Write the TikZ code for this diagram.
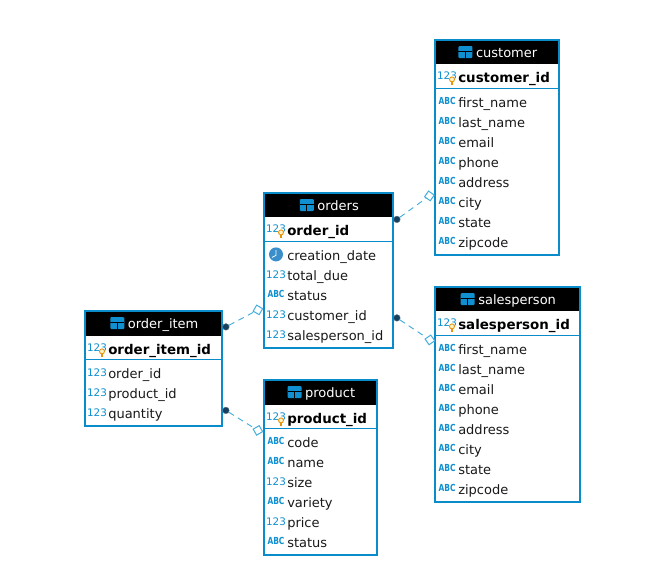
\documentclass[tikz,border=0pt]{standalone}
\usepackage{fontspec}
\setmainfont{DejaVu Sans}
\definecolor{frameblue}{HTML}{0A8CCB}
\definecolor{iconblue}{HTML}{1090D0}
\definecolor{linkblue}{HTML}{45AEDD}
\definecolor{dotdark}{HTML}{17405E}
\definecolor{clockblue}{HTML}{3A8FCB}
\definecolor{keyorange}{HTML}{E8920C}
\definecolor{keyyellow}{HTML}{FFF3C8}
\tikzset{
  tableframe/.style={draw=frameblue,line width=1.5pt,fill=white,inner sep=0pt,anchor=north west},
  tablehead/.style={fill=black,inner sep=0pt,anchor=north west},
  titletext/.style={text=white,font=\fontsize{9.75pt}{11pt}\selectfont,inner sep=0pt,anchor=base},
  pktext/.style={font=\fontsize{10.05pt}{11pt}\selectfont\bfseries,inner sep=0pt,anchor=base west},
  rowtext/.style={font=\fontsize{9.75pt}{11pt}\selectfont,text=black!90,inner sep=0pt,anchor=base west},
  numicon/.style={font=\fontsize{7.8pt}{8pt}\selectfont,text=iconblue,inner sep=0pt,anchor=base},
  abcicon/.style={font=\fontsize{5.6pt}{6pt}\selectfont\bfseries,text=iconblue,inner sep=0pt,anchor=base,yscale=1.3},
  seprule/.style={draw=frameblue,line width=0.75pt},
  dotend/.style={circle,fill=dotdark,draw=dotdark!70,line width=.3pt,minimum size=5pt,inner sep=0pt},
  squareend/.style={rectangle,draw=linkblue,fill=white,line width=.75pt,minimum size=5.2pt,inner sep=0pt},
  linkline/.style={draw=linkblue,line width=.7pt,dash pattern=on 4.5pt off 3.5pt},
}
\newcommand{\tableglyph}[1]{%
  \fill[iconblue,rounded corners=.8pt] ([shift={(-7,-6)}]#1) rectangle ([shift={(7,6)}]#1);
  \draw[black,line width=.6pt] ([shift={(-7,-.5)}]#1) -- ([shift={(7,-.5)}]#1);
  \draw[black,line width=.6pt] ([shift={(0,-.5)}]#1) -- ([shift={(0,6)}]#1);
}
\newcommand{\keyglyph}[2]{%
  \draw[keyorange,fill=keyyellow,line width=.65pt] (#1+5,#2) circle (2.5);
  \draw[keyorange,line width=1pt] (#1+5,#2+2.4) -- (#1+5,#2+5.4);
}
% id, left, top, right, bottom, head bottom, rule y, title, pk
\newcommand{\tablebox}[9]{%
  \node[tableframe,minimum width={(#4-#2)*.75pt},minimum height={(#5-#3)*.75pt}] (#1) at (#2,#3) {};
  \node[tablehead,minimum width={(#4-#2-2)*.75pt},minimum height={(#6-#3-1)*.75pt}] (#1head) at (#2+1,#3+1) {};
  \node[titletext] (#1title) at ({(#2+#4)/2+10.2},#3+18) {#8};
  \coordinate (#1glyph) at ([xshift=-7.7pt,yshift=4pt]#1title.base west);
  \tableglyph{#1glyph}
  \draw[seprule] (#2,#7) -- (#4,#7);
  \node[numicon] (#1pkicon) at (#2+12.6,#6+16) {123};
  \keyglyph{#2+12.6}{#6+16}
  \node[pktext] (#1pk) at (#2+23.6,#6+18.8) {#9};
}
\newcommand{\numrow}[4]{\node[numicon] (#1i) at (#2+12.6,#3+4) {123}; \node[rowtext] (#1) at (#2+23.6,#3+5.8) {#4};}
\newcommand{\abcrow}[4]{\node[abcicon] (#1i) at (#2+12.6,#3+3.5) {ABC}; \node[rowtext] (#1) at (#2+23.6,#3+5.8) {#4};}
\begin{document}
\begin{tikzpicture}[x=.75pt,y=-.75pt]
\useasboundingbox (.6,.6) rectangle (656.6,578.6);
\fill[white] (.6,.6) rectangle (656.6,578.6);

\tablebox{cu}{435}{40}{559}{255}{64}{89}{customer}{customer\_id}
\abcrow{cua}{435}{102}{first\_name}
\abcrow{cub}{435}{122}{last\_name}
\abcrow{cuc}{435}{142}{email}
\abcrow{cud}{435}{162}{phone}
\abcrow{cue}{435}{182}{address}
\abcrow{cuf}{435}{202}{city}
\abcrow{cug}{435}{222}{state}
\abcrow{cuh}{435}{242}{zipcode}

\tablebox{sa}{435}{287}{580}{502}{311}{336}{salesperson}{salesperson\_id}
\abcrow{saa}{435}{349}{first\_name}
\abcrow{sab}{435}{369}{last\_name}
\abcrow{sac}{435}{389}{email}
\abcrow{sad}{435}{409}{phone}
\abcrow{sae}{435}{429}{address}
\abcrow{saf}{435}{449}{city}
\abcrow{sag}{435}{469}{state}
\abcrow{sah}{435}{489}{zipcode}

\tablebox{or}{264}{193}{393}{348}{217}{242}{orders}{order\_id}
\fill[clockblue] (276.6,255) circle (7);
\draw[white,line width=.6pt] (276.6,250.5) -- (276.6,256) -- (272.6,258);
\node[rowtext] (ora) at (287.6,260.8) {creation\_date};
\numrow{orb}{264}{275}{total\_due}
\abcrow{orc}{264}{295}{status}
\numrow{ord}{264}{315}{customer\_id}
\numrow{ore}{264}{335}{salesperson\_id}

\tablebox{oi}{85}{311}{222}{426}{336}{360}{order\_item}{order\_item\_id}
\numrow{oia}{85}{373}{order\_id}
\numrow{oib}{85}{393}{product\_id}
\numrow{oic}{85}{413}{quantity}

\tablebox{pr}{264}{380}{377}{555}{405}{429}{product}{product\_id}
\abcrow{pra}{264}{442}{code}
\abcrow{prb}{264}{462}{name}
\numrow{prc}{264}{482}{size}
\abcrow{prd}{264}{502}{variety}
\numrow{pre}{264}{522}{price}
\abcrow{prf}{264}{542}{status}

\node[dotend] (d1) at (397.5,220) {};
\node[squareend,rotate=-35] (s1) at (430,196.5) {};
\draw[linkline] (d1) -- (s1);
\node[dotend] (d2) at (397.5,318.5) {};
\node[squareend,rotate=35] (s2) at (430.5,340.5) {};
\draw[linkline] (d2) -- (s2);
\node[dotend] (d3) at (226.5,327.5) {};
\node[squareend,rotate=-30] (s3) at (258.5,310.5) {};
\draw[linkline] (d3) -- (s3);
\node[dotend] (d4) at (226.5,411) {};
\node[squareend,rotate=30] (s4) at (258.5,431) {};
\draw[linkline] (d4) -- (s4);
\end{tikzpicture}
\end{document}
